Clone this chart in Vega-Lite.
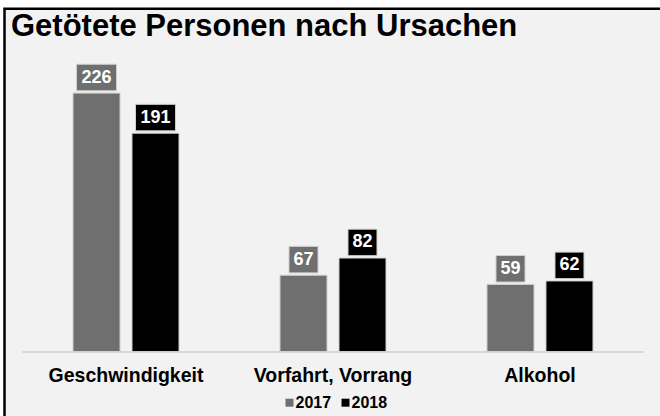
{
  "$schema": "https://vega.github.io/schema/vega-lite/v6.json",
  "width": 657,
  "height": 412,
  "autosize": {"type": "none"},
  "padding": {"left": 4.5, "top": 8.7, "right": 0, "bottom": 0},
  "background": "white",
  "title": {
    "text": "Getötete Personen nach Ursachen",
    "anchor": "start",
    "frame": "group",
    "offset": -34,
    "dx": 6.5,
    "fontSize": 31,
    "fontWeight": "bold",
    "color": "black",
    "font": "Liberation Sans"
  },
  "data": {
    "values": [
      {"cat": "Geschwindigkeit", "year": "2017", "value": 226},
      {"cat": "Geschwindigkeit", "year": "2018", "value": 191},
      {"cat": "Vorfahrt, Vorrang", "year": "2017", "value": 67},
      {"cat": "Vorfahrt, Vorrang", "year": "2018", "value": 82},
      {"cat": "Alkohol", "year": "2017", "value": 59},
      {"cat": "Alkohol", "year": "2018", "value": 62}
    ]
  },
  "encoding": {
    "x": {
      "field": "cat",
      "type": "nominal",
      "sort": null,
      "scale": {"paddingInner": 0, "paddingOuter": 0.087},
      "axis": {
        "orient": "bottom",
        "offset": -68.7,
        "title": null,
        "domain": false,
        "ticks": false,
        "labelAngle": 0,
        "labelPadding": 14.5,
        "labelFontSize": 19.5,
        "labelFontWeight": "bold",
        "labelColor": "black"
      }
    },
    "y": {
      "field": "value",
      "type": "quantitative",
      "scale": {"domain": [-60, 299.7], "nice": false, "zero": false},
      "axis": null
    }
  },
  "layer": [
    {
      "mark": {"type": "bar", "stroke": "#d0d0d0", "strokeWidth": 1},
      "encoding": {
        "y2": {"datum": 0},
        "xOffset": {"field": "year", "type": "nominal", "scale": {"paddingInner": 0.203, "paddingOuter": 0.856}},
        "color": {
          "field": "year",
          "type": "nominal",
          "scale": {"domain": ["2017", "2018"], "range": ["#6f6f6f", "#000000"]},
          "legend": {
            "orient": "none",
            "legendX": 277,
            "legendY": 386,
            "direction": "horizontal",
            "title": null,
            "symbolType": "square",
            "symbolSize": 64,
            "symbolStrokeWidth": 0,
            "labelFontSize": 16,
            "labelFontWeight": "bold",
            "labelColor": "black",
            "labelOffset": -2,
            "columnPadding": 6
          }
        }
      }
    },
    {
      "mark": {"type": "tick", "size": 207, "thickness": 2, "color": "#d4d4d4"},
      "encoding": {"y": {"datum": 0, "type": "quantitative"}}
    },
    {
      "mark": {"type": "point", "filled": true, "opacity": 1, "yOffset": -15.6, "stroke": "#d0d0d0", "strokeWidth": 1},
      "encoding": {
        "xOffset": {"field": "year", "type": "nominal"},
        "color": {"field": "year", "type": "nominal"},
        "shape": {
          "condition": {"test": "datum.value >= 100", "value": "M-1,-0.6625L1,-0.6625L1,0.6625L-1,0.6625Z"},
          "value": "M-1,-0.914L1,-0.914L1,0.914L-1,0.914Z"
        },
        "size": {
          "condition": {"test": "datum.value >= 100", "value": 1600},
          "value": 841
        }
      }
    },
    {
      "mark": {"type": "text", "yOffset": -15.6, "fontSize": 18, "fontWeight": "bold", "color": "white", "baseline": "middle"},
      "encoding": {
        "xOffset": {"field": "year", "type": "nominal"},
        "text": {"field": "value", "type": "quantitative"}
      }
    }
  ],
  "config": {
    "font": "Liberation Sans",
    "view": {"fill": "#f2f2f2", "stroke": "black", "strokeWidth": 2.5}
  }
}
